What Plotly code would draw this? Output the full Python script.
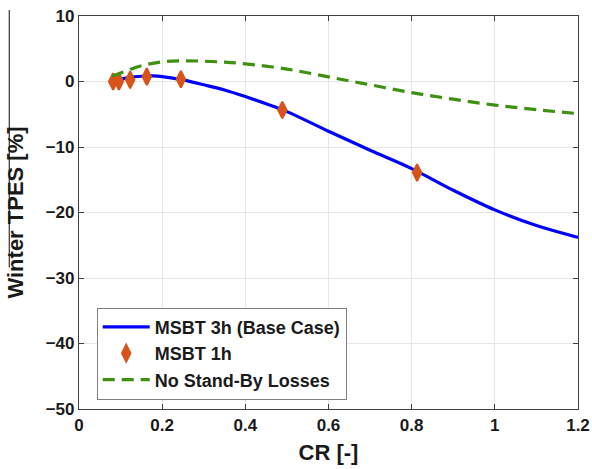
import plotly.graph_objects as go

# Data
cr_base = [0.08, 0.10, 0.12, 0.15, 0.18, 0.20, 0.25, 0.30, 0.35, 0.40, 0.45, 0.50,
           0.60, 0.70, 0.80, 0.90, 1.00, 1.10, 1.20]
tpes_base = [0.0, 0.35, 0.6, 0.8, 0.85, 0.75, 0.25, -0.5, -1.3, -2.3, -3.4, -4.6,
             -7.6, -10.5, -13.3, -16.6, -19.6, -22.0, -23.8]

cr_1h = [0.082, 0.096, 0.123, 0.163, 0.245, 0.489, 0.813]
tpes_1h = [0.0, 0.0, 0.25, 0.73, 0.34, -4.35, -13.9]

cr_nsb = [0.08, 0.10, 0.15, 0.20, 0.25, 0.30, 0.35, 0.40, 0.50, 0.60, 0.70, 0.80,
          0.90, 1.00, 1.10, 1.20]
tpes_nsb = [0.8, 1.3, 2.4, 3.0, 3.15, 3.1, 2.95, 2.7, 1.9, 0.7, -0.5, -1.7,
            -2.7, -3.6, -4.3, -4.9]

x_ticks = [0, 0.2, 0.4, 0.6, 0.8, 1, 1.2]
x_tick_text = ["0", "0.2", "0.4", "0.6", "0.8", "1", "1.2"]
y_ticks = [10, 0, -10, -20, -30, -40, -50]

FONT = "Liberation Sans, Arial, sans-serif"

fig = go.Figure()
fig.add_trace(go.Scatter(x=cr_base, y=tpes_base, mode="lines", name="MSBT 3h (Base Case)",
                         line=dict(color="#0000ff", width=3.2, shape="spline")))
fig.add_trace(go.Scatter(x=cr_1h, y=tpes_1h, mode="markers", name="MSBT 1h",
                         marker=dict(symbol="diamond-tall", color="#d95319", size=12,
                                     line=dict(width=2, color="#d95319"))))
fig.add_trace(go.Scatter(x=cr_nsb, y=tpes_nsb, mode="lines", name="No Stand-By Losses",
                         line=dict(color="#3f8f10", width=3.2, dash="12px,7px",
                                   shape="spline")))

axis_common = dict(
    automargin=False,
    showgrid=True, gridcolor="#e6e6e6", gridwidth=1,
    showline=True, linecolor="#404040", linewidth=1.2, mirror="ticks",
    ticks="inside", ticklen=5, tickcolor="#404040",
    tickfont=dict(family=FONT, size=17, color="#1a1a1a", weight="bold"),
    zeroline=False,
)

fig.update_layout(
    width=592, height=469,
    margin=dict(l=79, r=14, t=16, b=60),
    plot_bgcolor="white", paper_bgcolor="white",
    showlegend=True,
    legend=dict(x=0.0355, y=0.258, xanchor="left", yanchor="top",
                bgcolor="white", bordercolor="#7f7f7f", borderwidth=1,
                font=dict(family=FONT, size=18, color="#1a1a1a", weight="bold"),
                tracegroupgap=0, itemwidth=47),
    xaxis=dict(range=[0, 1.2], tickvals=x_ticks, ticktext=x_tick_text,
               title=dict(text="CR [-]", standoff=11,
                          font=dict(family=FONT, size=22, color="#1a1a1a", weight="bold")),
               **axis_common),
    yaxis=dict(range=[-50, 10], tickvals=y_ticks,
               title=dict(text="Winter TPES [%]", standoff=15,
                          font=dict(family=FONT, size=22, color="#1a1a1a", weight="bold")),
               **axis_common),
    shapes=[dict(type="line", xref="paper", yref="paper",
                 x0=-0.1397, x1=-0.1397, y0=1.015, y1=0.36,
                 line=dict(color="#333333", width=1.2))],
)

fig.write_html("out.html")
